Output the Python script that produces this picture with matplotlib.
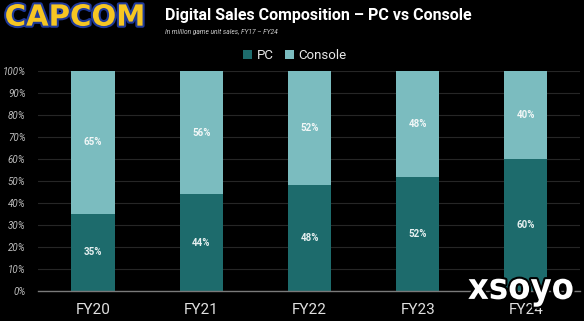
import matplotlib
matplotlib.use("Agg")
import matplotlib.pyplot as plt
import matplotlib.patheffects as pe
import numpy as np

categories = ["FY20", "FY21", "FY22", "FY23", "FY24"]
pc = [35, 44, 48, 52, 60]
console = [65, 56, 52, 48, 40]
yticks = [0, 10, 20, 30, 40, 50, 60, 70, 80, 90, 100]

PC_COLOR = "#1d6b6c"
CON_COLOR = "#7bbcbf"

plt.rcParams['font.family'] = ['Roboto', 'DejaVu Sans']

fig = plt.figure(figsize=(5.84, 3.21), dpi=100, facecolor="black")
ax = fig.add_axes([0.065, 0.0935, 0.928, 0.6855], facecolor="black")

x = np.arange(len(categories))
w = 0.4
ax.bar(x, pc, w, color=PC_COLOR, label="PC", zorder=3)
ax.bar(x, console, w, bottom=pc, color=CON_COLOR, label="Console", zorder=3)

for i in range(len(categories)):
    ax.text(x[i], pc[i] / 2, f"{pc[i]}%", ha="center", va="center",
            color="#e6f0f0", fontsize=7, fontweight="bold", zorder=4)
    ax.text(x[i], pc[i] + console[i] / 2, f"{console[i]}%", ha="center",
            va="center", color="#f2f7f7", fontsize=7, fontweight="bold", zorder=4)

ax.set_xlim(-0.51, 4.5)
ax.set_ylim(0, 100)
ax.set_yticks(yticks)
ax.set_yticklabels([f"{v}%" for v in yticks], fontstyle="italic",
                   color="#bdbdbd", fontsize=7)
ax.set_xticks(x)
ax.set_xticklabels(categories, color="#e0e0e0", fontsize=11)
ax.tick_params(axis="both", length=0)
ax.tick_params(axis="y", pad=9)
ax.tick_params(axis="x", pad=9)
ax.grid(axis="y", color="#262626", linewidth=0.8, zorder=0)
ax.set_axisbelow(True)
for s in ["top", "right", "left"]:
    ax.spines[s].set_visible(False)
ax.spines["bottom"].set_color("#7a7a7a")
ax.spines["bottom"].set_linewidth(1.0)
ax.spines["bottom"].set_zorder(5)

leg = fig.legend(loc="center", bbox_to_anchor=(0.505, 0.826), ncol=2,
                 frameon=False, fontsize=9.5, handlelength=0.65,
                 handleheight=0.65, handletextpad=0.35, columnspacing=0.9)
for t in leg.get_texts():
    t.set_color("#e8e8e8")

# Header
fig.text(0.282, 0.952, "Digital Sales Composition \u2013 PC vs Console",
         color="white", fontsize=11.5, fontweight="bold", va="center", ha="left")
fig.text(0.283, 0.9, "In million game unit sales, FY17 \u2013 FY24",
         color="#cfcfcf", fontsize=4.8, fontstyle="italic", va="center", ha="left")
fig.text(0.008, 0.945, "CAPCOM", color="#f6c623", fontsize=21,
         fontweight="heavy", va="center", ha="left",
         family=["DejaVu Sans"],
         path_effects=[pe.withStroke(linewidth=3, foreground="#1f3a9a")])

# Watermark
fig.text(0.892, 0.1, "xsoyo", color="white", fontsize=26, fontweight="bold",
         fontstretch="condensed", va="center", ha="center",
         family=["DejaVu Sans"],
         path_effects=[pe.withStroke(linewidth=3, foreground="black")])

fig.savefig("out.png", dpi=100, facecolor="black")
